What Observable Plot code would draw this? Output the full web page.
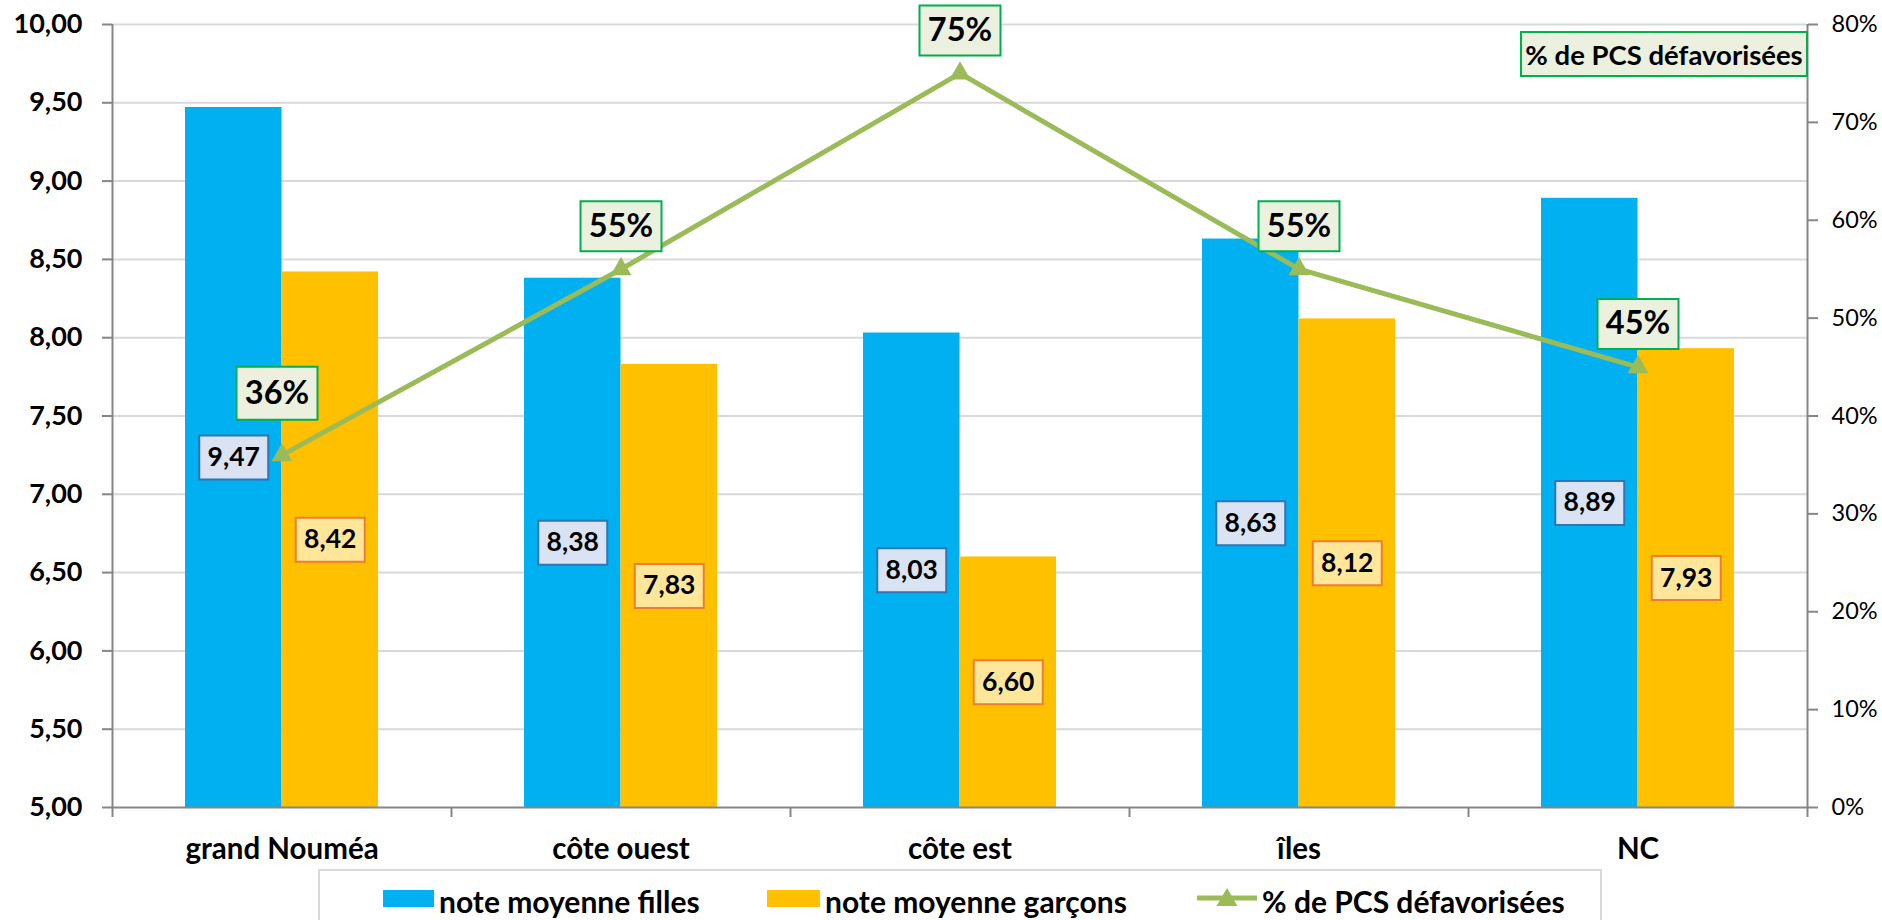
<!DOCTYPE html>
<html><head><meta charset="utf-8">
<script src="https://cdn.jsdelivr.net/npm/d3@7"></script>
<script src="https://cdn.jsdelivr.net/npm/@observablehq/plot@0.6"></script>
<style>
body{margin:0;background:#fff;font-family:Lato,sans-serif;}
#wrap{position:relative;width:1882px;height:920px;overflow:hidden;background:#fff;}
#wrap svg{display:block;}
.tag{position:absolute;box-sizing:border-box;background:#ebf1de;border:2px solid #00b050;font-weight:bold;font-size:27.5px;display:flex;align-items:center;justify-content:center;color:#000;}
#legend{position:absolute;left:318px;top:869px;width:1284px;height:80px;box-sizing:border-box;border:2px solid #d9d9d9;background:#fff;}
.li{position:absolute;top:14px;font-weight:bold;font-size:30px;line-height:32px;color:#000;white-space:nowrap;}
.sw{position:absolute;top:19px;height:17px;}
</style></head><body><div id="wrap"></div>
<script>
const categories = ["grand Nouméa", "côte ouest", "côte est", "îles", "NC"];
const filles = [9.47, 8.38, 8.03, 8.63, 8.89];
const garcons = [8.42, 7.83, 6.60, 8.12, 7.93];
const pcs = [36, 55, 75, 55, 45];
const leftTicks = [5, 5.5, 6, 6.5, 7, 7.5, 8, 8.5, 9, 9.5, 10];
const rightTicks = [0, 10, 20, 30, 40, 50, 60, 70, 80];
const seriesNames = ["note moyenne filles", "note moyenne garçons", "% de PCS défavorisées"];
const colors = ["#00b0f0", "#ffc000", "#9bbb59"];

const W = 1882, H = 866, mL = 112, mR = 75, mT = 24, mB = 59;
const yMin = leftTicks[0], yMax = leftTicks[leftTicks.length - 1], pMax = rightTicks[rightTicks.length - 1];
const toY = p => yMin + p / pMax * (yMax - yMin);
const bw = (W - mL - mR) / categories.length;
const barW = 96.5;
const pad = bw / 2 - barW;
const pxPerUnit = (H - mT - mB) / (yMax - yMin);
const tickExt = 10 / pxPerUnit;
const fr = v => d3.format(".2f")(v).replace(".", ",");
const rows = categories.map((c, i) => ({c, f: filles[i], g: garcons[i], p: pcs[i], i}));
const boxSymbol = (w, h) => ({draw(ctx) { ctx.rect(-w / 2, -h / 2, w, h); }});
const last = categories[categories.length - 1];
const axisGray = "#868686";

const chart = Plot.plot({
  width: W, height: H, marginLeft: mL, marginRight: mR, marginTop: mT, marginBottom: mB,
  style: {fontFamily: "Lato, sans-serif", background: "white", overflow: "visible", color: "black"},
  x: {type: "band", domain: categories, padding: 0, axis: null},
  y: {domain: [yMin, yMax], axis: null},
  marks: [
    Plot.ruleY(leftTicks.slice(1), {stroke: "#d9d9d9", strokeWidth: 2}),
    Plot.barY(rows, {x: "c", y1: yMin, y2: "f", fill: colors[0], insetLeft: pad, insetRight: bw / 2}),
    Plot.barY(rows, {x: "c", y1: yMin, y2: "g", fill: colors[1], insetLeft: bw / 2, insetRight: pad}),
    Plot.ruleY([yMin], {stroke: axisGray, strokeWidth: 2}),
    Plot.ruleX(categories, {x: d => d, dx: -bw / 2, y1: yMin - tickExt, y2: yMin, stroke: axisGray, strokeWidth: 2}),
    Plot.ruleX([last], {x: d => d, dx: bw / 2, y1: yMin - tickExt, y2: yMin, stroke: axisGray, strokeWidth: 2}),
    Plot.ruleX([categories[0]], {x: d => d, dx: -bw / 2, y1: yMin, y2: yMax, stroke: axisGray, strokeWidth: 2}),
    Plot.ruleX([last], {x: d => d, dx: bw / 2, y1: yMin, y2: yMax, stroke: axisGray, strokeWidth: 2}),
    Plot.axisY({anchor: "left", ticks: leftTicks, tickFormat: fr, tickSize: 10, tickPadding: 20,
      fontSize: 27, fontWeight: "bold", stroke: axisGray, strokeWidth: 2, fill: "black", label: null}),
    Plot.axisY({anchor: "right", ticks: rightTicks.map(toY),
      tickFormat: d => Math.round((d - yMin) / (yMax - yMin) * pMax) + "%",
      tickSize: 10, tickPadding: 14, fontSize: 23.5, stroke: axisGray, strokeWidth: 2, fill: "black", label: null}),
    Plot.axisX({anchor: "bottom", tickSize: 0, tickPadding: 31, fontSize: 29.5, fontWeight: "bold", fill: "black", label: null}),
    Plot.line(rows, {x: "c", y: d => toY(d.p), stroke: colors[2], strokeWidth: 5}),
    Plot.dot(rows, {x: "c", y: d => toY(d.p), symbol: "triangle", r: 7.8, fill: colors[2], stroke: "none"}),
    Plot.dot(rows, {x: "c", y: d => (d.f + yMin) / 2, dx: -barW / 2, symbol: boxSymbol(69, 44), fill: "#dae3f3", stroke: "#2e75b6", strokeWidth: 2}),
    Plot.text(rows, {x: "c", y: d => (d.f + yMin) / 2, dx: -barW / 2, text: d => fr(d.f), fontSize: 26.5, fontWeight: "bold", fill: "black"}),
    Plot.dot(rows, {x: "c", y: d => (d.g + yMin) / 2, dx: barW / 2, symbol: boxSymbol(69, 44), fill: "#ffe699", stroke: "#ed7d31", strokeWidth: 2}),
    Plot.text(rows, {x: "c", y: d => (d.g + yMin) / 2, dx: barW / 2, text: d => fr(d.g), fontSize: 26.5, fontWeight: "bold", fill: "black"}),
    Plot.dot(rows.filter(d => d.i === 0), {x: "c", y: d => toY(d.p), dx: -5, dy: -62, symbol: boxSymbol(81, 53), fill: "#ebf1de", stroke: "#00b050", strokeWidth: 2}),
    Plot.text(rows.filter(d => d.i === 0), {x: "c", y: d => toY(d.p), dx: -5, dy: -62, text: d => d.p + "%", fontSize: 32.5, fontWeight: "bold", fill: "black"}),
    Plot.dot(rows.filter(d => d.i !== 0), {x: "c", y: d => toY(d.p), dy: -43, symbol: boxSymbol(81, 50), fill: "#ebf1de", stroke: "#00b050", strokeWidth: 2}),
    Plot.text(rows.filter(d => d.i !== 0), {x: "c", y: d => toY(d.p), dy: -43, text: d => d.p + "%", fontSize: 32.5, fontWeight: "bold", fill: "black"})
  ]
});

const wrap = document.getElementById("wrap");
wrap.appendChild(chart);

const tag = document.createElement("div");
tag.className = "tag";
tag.style.cssText = "left:1520px;top:31px;width:288px;height:46px;";
tag.textContent = seriesNames[2];
wrap.appendChild(tag);

const legend = document.createElement("div");
legend.id = "legend";
legend.innerHTML = `
  <div class="sw" style="left:63px;width:51px;background:${colors[0]}"></div>
  <div class="li" style="left:119px">${seriesNames[0]}</div>
  <div class="sw" style="left:447px;width:53px;background:${colors[1]}"></div>
  <div class="li" style="left:505px">${seriesNames[1]}</div>
  <svg style="position:absolute;left:877px;top:13px" width="60" height="30">
    <line x1="0" y1="14" x2="60" y2="14" stroke="${colors[2]}" stroke-width="5"/>
    <path d="M30,4 L40.5,22 L19.5,22 Z" fill="${colors[2]}"/>
  </svg>
  <div class="li" style="left:942px">${seriesNames[2]}</div>`;
wrap.appendChild(legend);
</script>
</body></html>
